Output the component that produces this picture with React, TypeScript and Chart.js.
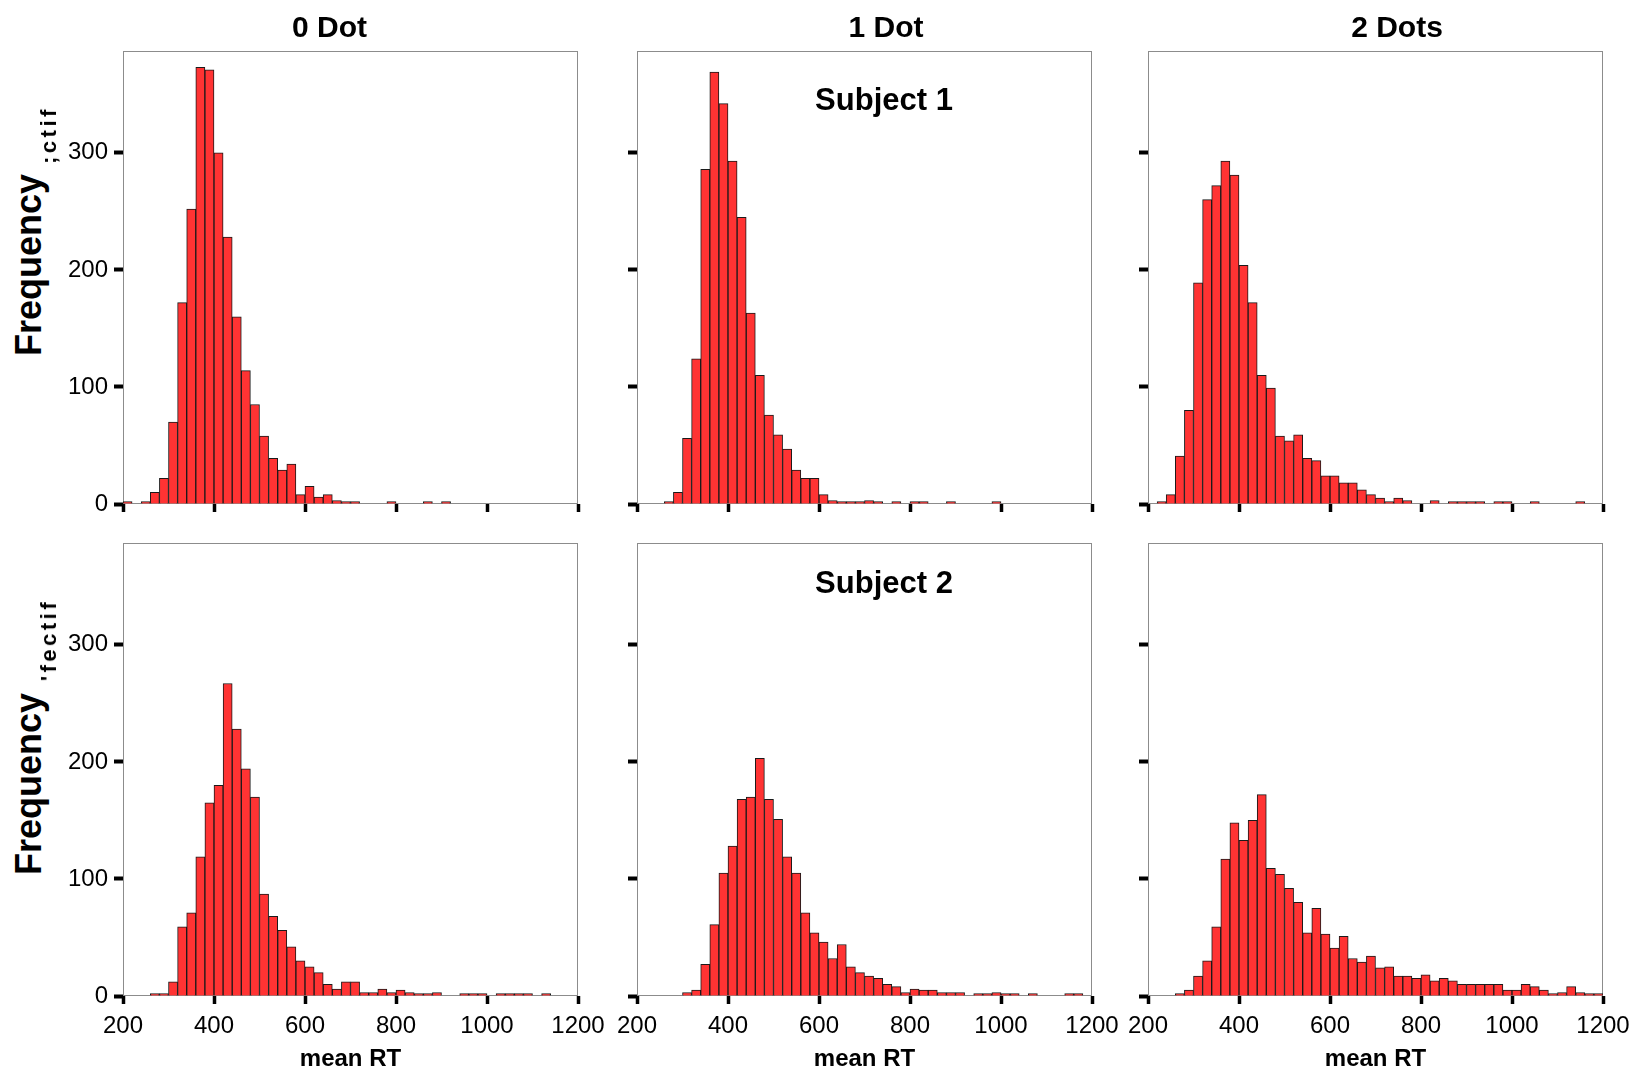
import React, { useEffect, useRef } from 'react';
import { Chart, registerables } from 'chart.js';

Chart.register(...registerables);

// ---------- data ----------
const BIN_CENTERS = [
  210, 230, 250, 270, 290, 310, 330, 350, 370, 390,
  410, 430, 450, 470, 490, 510, 530, 550, 570, 590,
  610, 630, 650, 670, 690, 710, 730, 750, 770, 790,
  810, 830, 850, 870, 890, 910, 930, 950, 970, 990,
  1010, 1030, 1050, 1070, 1090, 1110, 1130, 1150, 1170, 1190,
];
const X_TICKS = [200, 400, 600, 800, 1000, 1200];
const Y_TICKS = [0, 100, 200, 300];
const COL_TITLES = ['0 Dot', '1 Dot', '2 Dots'];
const ROW_SUBJECTS = ['Subject 1', 'Subject 2'];
const Y_TITLE = 'Frequency';
const Y_SUBSCRIPTS = [';ctif', "'fectif"];
const X_TITLE = 'mean RT';

// Subject 1
const S1_DOT0 = [
  1, 0, 1, 10, 22, 70, 172, 252, 373, 371,
  300, 228, 160, 114, 85, 58, 39, 29, 34, 8,
  15, 6, 8, 3, 1, 1, 0, 0, 0, 1,
  0, 0, 0, 1, 0, 1, 0, 0, 0, 0,
  0, 0, 0, 0, 0, 0, 0, 0, 0, 0,
];
const S1_DOT1 = [
  0, 0, 0, 1, 10, 56, 124, 286, 369, 342,
  293, 245, 163, 110, 76, 59, 47, 29, 22, 22,
  8, 3, 1, 1, 1, 3, 1, 0, 1, 0,
  1, 1, 0, 0, 1, 0, 0, 0, 0, 1,
  0, 0, 0, 0, 0, 0, 0, 0, 0, 0,
];
const S1_DOT2 = [
  0, 1, 8, 41, 80, 189, 260, 272, 293, 281,
  204, 172, 110, 99, 58, 54, 59, 39, 37, 24,
  24, 18, 18, 12, 8, 5, 1, 5, 3, 0,
  0, 3, 0, 1, 1, 1, 1, 0, 1, 1,
  0, 0, 1, 0, 0, 0, 0, 1, 0, 0,
];
// Subject 2
const S2_DOT0 = [
  0, 0, 0, 1, 2, 12, 59, 71, 119, 165,
  180, 267, 228, 194, 170, 87, 68, 56, 42, 30,
  25, 20, 10, 6, 12, 12, 3, 3, 6, 3,
  5, 3, 2, 1, 3, 0, 0, 1, 2, 1,
  0, 1, 1, 1, 1, 0, 1, 0, 0, 0,
];
const S2_DOT1 = [
  0, 0, 0, 0, 0, 3, 5, 27, 61, 105,
  128, 168, 170, 203, 168, 151, 119, 105, 71, 54,
  46, 32, 44, 25, 20, 17, 15, 10, 8, 3,
  6, 5, 5, 3, 3, 3, 0, 2, 1, 3,
  1, 2, 0, 1, 0, 0, 0, 1, 1, 0,
];
const S2_DOT2 = [
  0, 0, 0, 1, 5, 17, 30, 59, 117, 148,
  133, 150, 172, 109, 104, 92, 80, 54, 75, 53,
  41, 51, 32, 29, 34, 24, 25, 17, 17, 15,
  18, 13, 15, 13, 10, 10, 10, 10, 10, 5,
  5, 10, 8, 5, 2, 3, 8, 3, 2, 1,
];

const PANELS = [
  { values: S1_DOT0, row: 0, col: 0 },
  { values: S1_DOT1, row: 0, col: 1 },
  { values: S1_DOT2, row: 0, col: 2 },
  { values: S2_DOT0, row: 1, col: 0 },
  { values: S2_DOT1, row: 1, col: 1 },
  { values: S2_DOT2, row: 1, col: 2 },
];

// ---------- layout ----------
const PLOT_LEFT = [123, 637, 1148];
const PLOT_TOP = [51, 543];
const PLOT_W = 455;
const PLOT_H = 453;
const ML = 70;
const MR = 40;
const MT = 10;
const MB = 50;
const Y_MAX = 387;
const FONT = '"Liberation Sans", Arial, Helvetica, sans-serif';

const framePlugin = {
  id: 'frame',
  beforeDatasetsDraw(chart: any) {
    const { ctx, chartArea } = chart;
    ctx.save();
    ctx.strokeStyle = '#8c8c8c';
    ctx.lineWidth = 1;
    ctx.strokeRect(
      Math.round(chartArea.left) + 0.5,
      Math.round(chartArea.top) + 0.5,
      Math.round(chartArea.right - chartArea.left) - 1,
      Math.round(chartArea.bottom - chartArea.top) - 1
    );
    ctx.restore();
  },
};

function Panel({ values, row, col }: { values: number[]; row: number; col: number }) {
  const ref = useRef<HTMLCanvasElement | null>(null);
  const width = ML + PLOT_W + MR;
  const height = MT + PLOT_H + MB;

  useEffect(() => {
    if (!ref.current) return;
    const chart = new Chart(ref.current, {
      type: 'bar',
      data: {
        datasets: [
          {
            data: BIN_CENTERS.map((x, i) => ({ x, y: values[i] === 0 ? null : values[i] })),
            backgroundColor: '#FF3333',
            borderColor: '#1a1a1a',
            borderWidth: 1,
            barPercentage: 1,
            categoryPercentage: 1,
            minBarLength: 2.5,
          } as any,
        ],
      },
      options: {
        animation: false,
        responsive: false,
        maintainAspectRatio: false,
        devicePixelRatio: 1,
        layout: { padding: { top: MT, right: MR, left: 0, bottom: 0 } },
        plugins: {
          legend: { display: false },
          tooltip: { enabled: false },
          title: { display: false },
        },
        scales: {
          x: {
            type: 'linear',
            min: 200,
            max: 1200,
            offset: false,
            grid: {
              display: true,
              offset: false,
              drawOnChartArea: false,
              drawTicks: true,
              tickLength: 8,
              tickWidth: 3.5,
              tickColor: '#000',
            },
            border: { display: false },
            ticks: {
              display: row === 1,
              autoSkip: false,
              maxRotation: 0,
              minRotation: 0,
              padding: 8,
              color: '#000',
              font: { family: FONT, size: 24 },
              callback: (v: any) => String(v),
            },
            afterBuildTicks: (s: any) => {
              s.ticks = X_TICKS.map((v) => ({ value: v }));
            },
            afterFit: (s: any) => {
              s.height = MB;
              s.paddingLeft = 0;
              s.paddingRight = 0;
            },
          },
          y: {
            type: 'linear',
            min: 0,
            max: Y_MAX,
            grid: {
              display: true,
              drawOnChartArea: false,
              drawTicks: true,
              tickLength: 9,
              tickWidth: 4,
              tickColor: '#000',
            },
            border: { display: false },
            ticks: {
              display: col === 0,
              padding: 6,
              color: '#000',
              font: { family: FONT, size: 24 },
              callback: (v: any) => String(v),
            },
            afterBuildTicks: (s: any) => {
              s.ticks = Y_TICKS.map((v) => ({ value: v }));
            },
            afterFit: (s: any) => {
              s.width = ML;
              s.paddingTop = 0;
              s.paddingBottom = 0;
            },
          },
        },
      } as any,
      plugins: [framePlugin],
    });
    return () => chart.destroy();
  }, [values, row, col]);

  return (
    <canvas
      ref={ref}
      width={width}
      height={height}
      style={{
        position: 'absolute',
        left: PLOT_LEFT[col] - ML,
        top: PLOT_TOP[row] - MT,
        width,
        height,
      }}
    />
  );
}

function HText({ text, cx, baseline, size }: { text: string; cx: number; baseline: number; size: number }) {
  return (
    <div
      style={{
        position: 'absolute',
        left: cx,
        top: baseline - 0.8465 * size,
        transform: 'translateX(-50%)',
        whiteSpace: 'nowrap',
        fontFamily: FONT,
        fontWeight: 'bold',
        fontSize: size,
        lineHeight: `${size}px`,
        color: '#000',
      }}
    >
      {text}
    </div>
  );
}

function VText({ text, cx, cy, size, spacing = 0 }: { text: string; cx: number; cy: number; size: number; spacing?: number }) {
  return (
    <div
      style={{
        position: 'absolute',
        left: cx,
        top: cy,
        transform: 'translate(-50%, -50%) rotate(-90deg)',
        whiteSpace: 'nowrap',
        fontFamily: FONT,
        fontWeight: 'bold',
        fontSize: size,
        lineHeight: `${size}px`,
        letterSpacing: spacing,
        color: '#000',
      }}
    >
      {text}
    </div>
  );
}

const TITLE_CX = [329.5, 886, 1397];
const SUBJECT_CX = 884;
const SUBJECT_BASELINE = [110, 593];
const Y_TITLE_CY = [265, 784];
const Y_SUB_CY = [135, 640];

export default function App() {
  return (
    <div
      style={{
        position: 'absolute',
        left: 0,
        top: 0,
        width: 1638,
        height: 1074,
        background: '#fff',
        overflow: 'hidden',
      }}
    >
      {PANELS.map((p, i) => (
        <Panel key={i} values={p.values} row={p.row} col={p.col} />
      ))}
      {COL_TITLES.map((t, i) => (
        <HText key={'t' + i} text={t} cx={TITLE_CX[i]} baseline={37} size={30} />
      ))}
      {ROW_SUBJECTS.map((t, i) => (
        <HText key={'s' + i} text={t} cx={SUBJECT_CX} baseline={SUBJECT_BASELINE[i]} size={31} />
      ))}
      {PLOT_LEFT.map((l, i) => (
        <HText key={'x' + i} text={X_TITLE} cx={l + PLOT_W / 2} baseline={1066} size={24} />
      ))}
      {Y_TITLE_CY.map((cy, i) => (
        <VText key={'y' + i} text={Y_TITLE} cx={29.3} cy={cy} size={36} />
      ))}
      {Y_SUB_CY.map((cy, i) => (
        <VText key={'ys' + i} text={Y_SUBSCRIPTS[i]} cx={49.4} cy={cy} size={22} spacing={3.5} />
      ))}
    </div>
  );
}
